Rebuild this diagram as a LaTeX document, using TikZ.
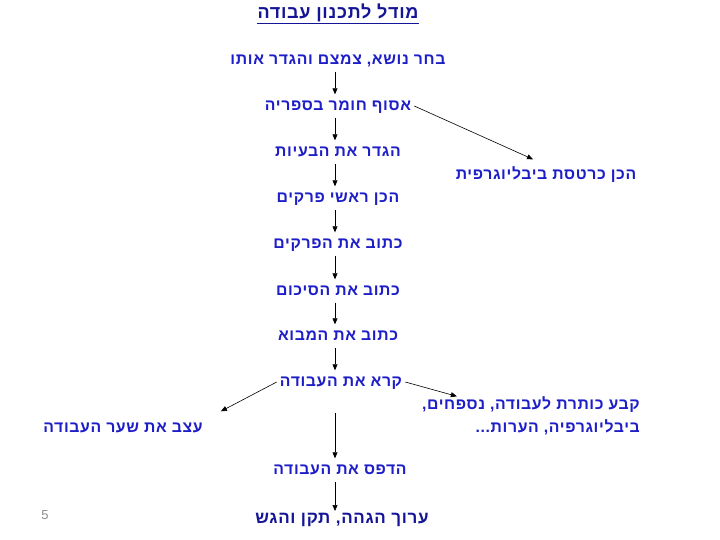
\documentclass[tikz,border=0pt]{standalone}
\usepackage{fontspec}
\setmainfont{Liberation Sans}
\newfontfamily\heb[Script=Hebrew,LetterSpace=4]{Liberation Sans}
\TeXXeTstate=1
\usetikzlibrary{arrows.meta,calc}
\definecolor{txtblue}{RGB}{30,30,200}
\definecolor{titleblue}{RGB}{20,20,150}
\definecolor{pagegray}{RGB}{140,140,140}
\tikzset{
  stepbox/.style={font=\heb\bfseries\fontsize{15.8}{17}\selectfont, text=txtblue, inner xsep=3pt, inner ysep=7pt, text height=9pt, text depth=0pt},
  conn/.style={draw=black, line width=0.6pt, -{Triangle[length=6pt,width=5pt]}},
}
\begin{document}
\begin{tikzpicture}[x=1pt,y=-1pt]
\useasboundingbox (0,0) rectangle (720,540);
% title
\node[stepbox, font=\heb\bfseries\fontsize{18}{20}\selectfont, text=titleblue] (title) at (338,14) {\beginR מודל לתכנון עבודה\endR};
\draw[titleblue, line width=0.9pt] ($(title.south west)+(3,-2)$) -- ($(title.south east)+(-3,-2)$);
% main column
\node[stepbox] (s1) at (338,60) {\beginR בחר נושא, צמצם והגדר אותו\endR};
\node[stepbox] (s2) at (338,106) {\beginR אסוף חומר בספריה\endR};
\node[stepbox] (s3) at (338,152) {\beginR הגדר את הבעיות\endR};
\node[stepbox] (s4) at (338,198) {\beginR הכן ראשי פרקים\endR};
\node[stepbox] (s5) at (338,244) {\beginR כתוב את הפרקים\endR};
\node[stepbox] (s6) at (338,291) {\beginR כתוב את הסיכום\endR};
\node[stepbox] (s7) at (338,336) {\beginR כתוב את המבוא\endR};
\node[stepbox] (s8) at (341,382) {\beginR קרא את העבודה\endR};
\node[stepbox] (s9) at (340,470) {\beginR הדפס את העבודה\endR};
\node[stepbox, font=\heb\bfseries\fontsize{17}{19}\selectfont, text=titleblue] (s10) at (342,519) {\beginR ערוך הגהה, תקן והגש\endR};
% side nodes
\node[stepbox] (kart) at (546,175) {\beginR הכן כרטסת ביבליוגרפית\endR};
\node[stepbox, anchor=east] (kva1) at (643,405) {\beginR קבע כותרת לעבודה, נספחים,\endR};
\node[stepbox, anchor=east] (kva2) at (643,428) {\beginR ביבליוגרפיה, הערות...\endR};
\node[stepbox] (atsev) at (123,428) {\beginR עצב את שער העבודה\endR};
% page number
\node[font=\fontsize{13}{15}\selectfont, text=pagegray] (pg) at (45,515) {5};
% connectors
\draw[conn] (s1.south -| 335,0) -- (s2.north -| 335,0);
\draw[conn] (s2.south -| 335,0) -- (s3.north -| 335,0);
\draw[conn] (s3.south -| 335,0) -- (s4.north -| 335,0);
\draw[conn] (s4.south -| 335,0) -- (s5.north -| 335,0);
\draw[conn] (s5.south -| 335,0) -- (s6.north -| 335,0);
\draw[conn] (s6.south -| 335,0) -- (s7.north -| 335,0);
\draw[conn] (s7.south -| 335,0) -- (s8.north -| 335,0);
\draw[conn, shorten <=19pt] (s8.south -| 335,0) -- (s9.north -| 335,0);
\draw[conn] (s9.south -| 335,0) -- ($(s10.center -| 335,0)+(0,-8)$);
\draw[conn] (s2.east) -- ($(kart.north)+(-13,-4)$);
\draw[conn] (s8.east) -- ($(kva1.north west)+(38,3)$);
\draw[conn] (s8.west) -- ($(atsev.north east)+(15,-5)$);
\end{tikzpicture}
\end{document}
